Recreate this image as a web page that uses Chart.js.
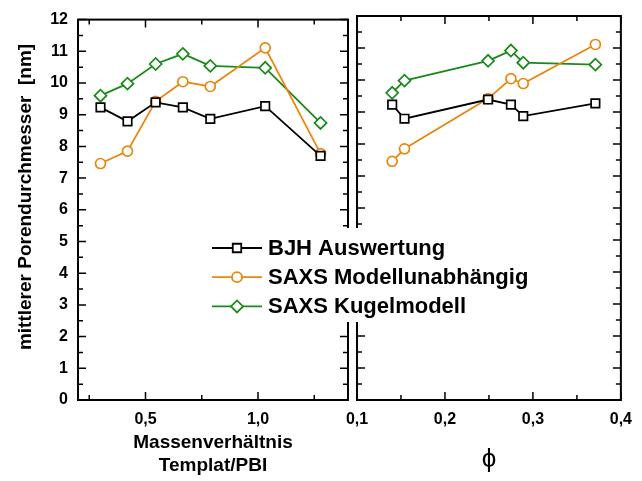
<!DOCTYPE html>
<html>
<head>
<meta charset="utf-8">
<script src="https://cdn.jsdelivr.net/npm/chart.js@4.4.0/dist/chart.umd.min.js"></script>
<style>
body { margin: 0; background: #fff; }
#wrap { position: relative; width: 642px; height: 481px; }
#wrap canvas { position: absolute; left: 0; top: 0; }
</style>
</head>
<body>
<div id="wrap">
    <canvas id="left" width="642" height="481"></canvas>
    <canvas id="right" width="642" height="481"></canvas>
</div>
<script>
// data
const massRatio  = [0.30, 0.42, 0.545, 0.666, 0.788, 1.032, 1.278];
const phi        = [0.140, 0.154, 0.249, 0.275, 0.289, 0.371];
const bjh        = [9.23, 8.79, 9.39, 9.23, 8.87, 9.27, 7.70];
const saxsModell = [7.46, 7.85, 9.42, 10.04, 9.89, 11.11, 7.77];
const saxsKugel  = [9.60, 9.98, 10.60, 10.92, 10.54, 10.48, 8.74];
const seriesNames = ['BJH Auswertung', 'SAXS Modellunabhängig', 'SAXS Kugelmodell'];

// ticks
const leftMajor  = [0.5, 1.0];
const leftMinor  = [0.25, 0.75, 1.25];
const rightMajor = [0.1, 0.2, 0.3, 0.4];
const rightMinor = [0.15, 0.25, 0.35];
const yMajor = [0, 1, 2, 3, 4, 5, 6, 7, 8, 9, 10, 11, 12];
const yMinor = [0.5, 1.5, 2.5, 3.5, 4.5, 5.5, 6.5, 7.5, 8.5, 9.5, 10.5, 11.5];

//style
const black  = '#000000';
const orange = '#E8870F';
const green  = '#1A8A1A';
const colors = [black, orange, green];
const styles = ['rect', 'circle', 'rectRot'];
const radii  = [6, 5, 6];
const fontFamily = '"Liberation Sans", Arial, sans-serif';

Chart.defaults.color = black;
Chart.defaults.font.family = fontFamily;

function makeSets(xs) {
    return [bjh, saxsModell, saxsKugel].map(function (ys, i) {
        return {
            label: seriesNames[i],
            data: xs.map(function (x, j) { return {x: x, y: ys[j]}; }),
            borderColor: colors[i],
            borderWidth: 1.8,
            pointStyle: styles[i],
            pointRadius: radii[i],
            pointBorderColor: colors[i],
            pointBackgroundColor: '#ffffff',
            pointBorderWidth: 1.7,
            tension: 0
        };
    });
}

const comma = function (v) { return Number(v).toFixed(1).replace('.', ','); };

// frame with inward ticks on all four sides
const frame = {
    id: 'frame',
    beforeDatasetsDraw(chart, args, o) {
        const ctx = chart.ctx, a = chart.chartArea;
        const sx = chart.scales.x, sy = chart.scales.y;
        ctx.save();
        ctx.strokeStyle = black;
        ctx.lineWidth = 1.5;
        ctx.beginPath();
        const tickX = function (v, len) {
            const x = sx.getPixelForValue(v);
            ctx.moveTo(x, a.bottom); ctx.lineTo(x, a.bottom - len);
            ctx.moveTo(x, a.top);    ctx.lineTo(x, a.top + len);
        };
        const tickY = function (v, len) {
            const y = sy.getPixelForValue(v);
            ctx.moveTo(a.left, y);  ctx.lineTo(a.left + len, y);
            ctx.moveTo(a.right, y); ctx.lineTo(a.right - len, y);
        };
        o.xMajor.forEach(function (v) { tickX(v, 8); });
        o.xMinor.forEach(function (v) { tickX(v, 5); });
        yMajor.forEach(function (v) { tickY(v, 8); });
        yMinor.forEach(function (v) { tickY(v, 5); });
        ctx.stroke();
        ctx.lineWidth = 2;
        ctx.strokeRect(a.left, a.top, a.right - a.left, a.bottom - a.top);
        ctx.restore();
    }
};

// rotated y title, sits a bit above the centre like the original
const yTitle = {
    id: 'yTitle',
    afterDraw(chart) {
        const ctx = chart.ctx;
        ctx.save();
        ctx.translate(26, 197);
        ctx.rotate(-Math.PI / 2);
        ctx.font = 'bold 19px ' + fontFamily;
        ctx.fillStyle = black;
        ctx.textAlign = 'center';
        ctx.textBaseline = 'middle';
        ctx.fillText('mittlerer Porendurchmesser  [nm]', 0, 0);
        ctx.restore();
    }
};

function drawMarker(ctx, style, r, x, y) {
    ctx.beginPath();
    if (style === 'rect') {
        const s = r * Math.SQRT1_2;
        ctx.rect(x - s, y - s, 2 * s, 2 * s);
    } else if (style === 'rectRot') {
        ctx.moveTo(x - r, y); ctx.lineTo(x, y - r); ctx.lineTo(x + r, y); ctx.lineTo(x, y + r); ctx.closePath();
    } else {
        ctx.arc(x, y, r, 0, Math.PI * 2);
    }
    ctx.fill();
    ctx.stroke();
}

// legend spanning both panels
const legendBox = {
    id: 'legendBox',
    afterDraw(chart) {
        const ctx = chart.ctx;
        ctx.save();
        ctx.fillStyle = '#ffffff';
        ctx.fillRect(205, 228, 300, 94);
        chart.data.datasets.forEach(function (ds, i) {
            const y = 248 + i * 29.2;
            ctx.strokeStyle = ds.borderColor;
            ctx.lineWidth = 1.8;
            ctx.beginPath();
            ctx.moveTo(212, y); ctx.lineTo(262, y);
            ctx.stroke();
            ctx.fillStyle = '#ffffff';
            drawMarker(ctx, ds.pointStyle, ds.pointRadius, 237, y);
            ctx.fillStyle = black;
            ctx.font = 'bold 22px ' + fontFamily;
            ctx.textAlign = 'left';
            ctx.textBaseline = 'middle';
            ctx.fillText(ds.label, 268, y + 1);
        });
        ctx.restore();
    }
};

new Chart(document.getElementById('left').getContext('2d'), {
    type: 'line',
    data: {datasets: makeSets(massRatio)},
    plugins: [frame, yTitle],
    options: {
        responsive: false,
        animation: false,
        layout: {padding: {left: 0, right: 294, top: 16, bottom: 0}},
        plugins: {
            legend: {display: false},
            tooltip: {enabled: false},
            frame: {xMajor: leftMajor, xMinor: leftMinor}
        },
        scales: {
            x: {
                type: 'linear',
                min: 0.2,
                max: 1.4,
                afterBuildTicks: function (scale) {
                    scale.ticks = leftMajor.map(function (v) { return {value: v}; });
                },
                afterFit: function (scale) { scale.height = 81; },
                grid: {display: false, drawTicks: false},
                border: {display: false},
                ticks: {
                    autoSkip: false,
                    maxRotation: 0,
                    padding: 10,
                    font: {size: 16, weight: 'bold'},
                    callback: comma
                },
                title: {
                    display: true,
                    text: ['Massenverhältnis', 'Templat/PBI'],
                    font: {size: 19, weight: 'bold', lineHeight: '23px'},
                    padding: {top: 0, bottom: 4}
                }
            },
            y: {
                min: 0,
                max: 12,
                afterBuildTicks: function (scale) {
                    scale.ticks = yMajor.map(function (v) { return {value: v}; });
                },
                afterFit: function (scale) { scale.width = 78; },
                grid: {display: false, drawTicks: false},
                border: {display: false},
                ticks: {
                    padding: 10,
                    font: {size: 16, weight: 'bold'}
                }
            }
        }
    }
});

new Chart(document.getElementById('right').getContext('2d'), {
    type: 'line',
    data: {datasets: makeSets(phi)},
    plugins: [frame, legendBox],
    options: {
        responsive: false,
        animation: false,
        layout: {padding: {left: 357, right: 13, top: 16, bottom: 0}},
        plugins: {
            legend: {display: false},
            tooltip: {enabled: false},
            frame: {xMajor: rightMajor, xMinor: rightMinor}
        },
        scales: {
            x: {
                type: 'linear',
                min: 0.1,
                max: 0.4,
                afterBuildTicks: function (scale) {
                    scale.ticks = rightMajor.map(function (v) { return {value: v}; });
                },
                afterFit: function (scale) { scale.height = 81; },
                grid: {display: false, drawTicks: false},
                border: {display: false},
                ticks: {
                    autoSkip: false,
                    maxRotation: 0,
                    padding: 10,
                    font: {size: 16, weight: 'bold'},
                    callback: comma
                },
                title: {
                    display: true,
                    text: 'ϕ',
                    font: {size: 26, weight: 'normal', lineHeight: '30px'},
                    padding: {top: 0, bottom: 6}
                }
            },
            y: {
                display: false,
                min: 0,
                max: 12
            }
        }
    }
});
</script>
</body>
</html>
